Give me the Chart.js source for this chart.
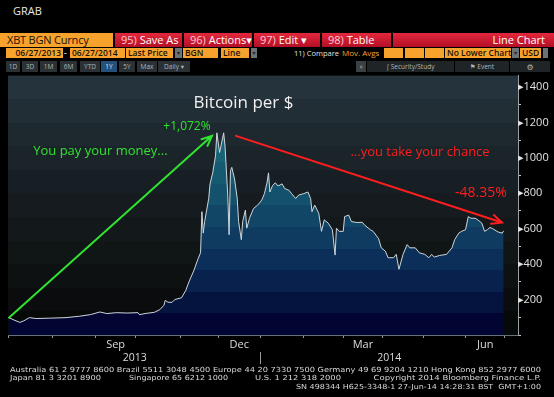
<!DOCTYPE html>
<html>
<head>
<meta charset="utf-8">
<script src="https://cdn.jsdelivr.net/npm/chart.js@4.4.1/dist/chart.umd.min.js"></script>
<style>
  html, body { margin: 0; padding: 0; background: #000; }
  #wrap { position: relative; width: 554px; height: 397px; background: #000; overflow: hidden;
          font-family: 'Open Sans', 'DejaVu Sans', sans-serif; }
  .b { position: absolute; box-sizing: border-box; white-space: nowrap; overflow: hidden; }
  .r1 { top: 33px; height: 14px; font-size: 11px; line-height: 14px; }
  .r2 { top: 48px; height: 10px; font-size: 8.5px; line-height: 10px; font-weight: 600; }
  .r3 { top: 61px; height: 11px; font-size: 6.5px; line-height: 11px; text-align: center;
        color: #aeb6bb; background: #2a3034; }
  .or { background: #f7a22d; color: #1b1206; padding-left: 2px; }
  .rd { background: linear-gradient(#e3283d, #b40f26); color: #fff; padding-left: 6px; }
  .rd i { font-style: normal; color: #ffc9cf; }
  .dd { background: #6c7377; color: #222; font-size: 6px; text-align: center; }
  #chart { position: absolute; left: 0; top: 72px; }
</style>
</head>
<body>
<div id="wrap">
  <div class="b" style="left:13px;top:3px;font-size:11px;line-height:16px;color:#e8e8e8;">GRAB</div>

  <div class="b r1 or" style="left:0;width:113px;padding-left:7px;letter-spacing:-0.2px;">XBT BGN Curncy</div>
  <div class="b r1 rd" style="left:115px;width:67px;"><i>95)</i> Save As</div>
  <div class="b r1 rd" style="left:184px;width:68px;"><i>96)</i> Actions&#9662;</div>
  <div class="b r1 rd" style="left:254px;width:66px;"><i>97)</i> Edit &#9662;</div>
  <div class="b r1 rd" style="left:322px;width:69px;"><i>98)</i> Table</div>
  <div class="b r1 rd" style="left:393px;width:161px;text-align:right;padding-right:9px;">Line Chart</div>

  <div class="b r2 or" style="left:6px;width:57px;text-align:right;padding-right:2px;">06/27/2013</div>
  <div class="b r2" style="left:64px;width:5px;color:#ddd;">-</div>
  <div class="b r2 or" style="left:70px;width:55px;">06/27/2014</div>
  <div class="b r2 or" style="left:126px;width:47px;">Last Price</div>
  <div class="b r2 dd" style="left:175px;width:7px;">&#9662;</div>
  <div class="b r2 or" style="left:183px;width:35px;">BGN</div>
  <div class="b r2 or" style="left:221px;width:28px;">Line</div>
  <div class="b r2 dd" style="left:251px;width:6px;">&#9662;</div>
  <div class="b r2" style="left:294px;color:#e0e0e0;font-weight:400;font-size:7.5px;">11) Compare</div>
  <div class="b r2" style="left:342px;color:#f7a22d;font-weight:400;font-size:8px;">Mov. Avgs</div>
  <div class="b r2 or" style="left:384px;width:19px;"></div>
  <div class="b r2 or" style="left:405px;width:19px;"></div>
  <div class="b r2 or" style="left:425px;width:19px;"></div>
  <div class="b r2 or" style="left:445px;width:66px;">No Lower Chart</div>
  <div class="b r2 dd" style="left:512px;width:7px;">&#9662;</div>
  <div class="b r2 or" style="left:520px;width:21px;">USD</div>
  <div class="b r2 dd" style="left:543px;width:5px;"></div>

  <div class="b r3" style="left:6px;width:14px;">1D</div>
  <div class="b r3" style="left:22px;width:16px;">3D</div>
  <div class="b r3" style="left:40px;width:17px;">1M</div>
  <div class="b r3" style="left:60px;width:17px;">6M</div>
  <div class="b r3" style="left:80px;width:20px;">YTD</div>
  <div class="b r3" style="left:101px;width:16px;background:#24507c;color:#d6e6f5;">1Y</div>
  <div class="b r3" style="left:119px;width:16px;">5Y</div>
  <div class="b r3" style="left:137px;width:20px;">Max</div>
  <div class="b r3" style="left:158px;width:32px;">Daily &#9662;</div>
  <div class="b r3" style="left:356px;width:10px;background:#3a4044;">&#171;</div>
  <div class="b r3" style="left:367px;width:87px;background:#1f2427;">&#8747; Security/Study</div>
  <div class="b r3" style="left:455px;width:54px;background:#1f2427;">&#9873; Event</div>
  <div class="b r3" style="left:510px;width:40px;background:#1f2427;font-size:8px;">&#9881;</div>

  <canvas id="chart" width="554" height="325"></canvas>
</div>

<script>
// XBT BGN, days since 27 Jun 2013, last price in USD
const days = [0, 3, 8, 11, 15, 20, 30, 42, 52, 60, 67, 72, 79, 87, 95, 96, 101, 107, 111, 114,
  115, 117, 120, 122, 127, 130, 133, 136, 139, 141, 142, 143, 144, 147, 148, 150, 152, 153, 155, 158,
  159, 161, 162, 163, 164, 166, 168, 169, 171, 172, 174, 175, 177, 180, 183, 186, 188, 190, 191, 192,
  194, 196, 198, 201, 203, 206, 208, 211, 213, 217, 220, 222, 223, 225, 228, 230, 232, 235, 238, 240,
  241, 243, 246, 247, 250, 252, 256, 260, 262, 266, 268, 272, 274, 277, 279, 283, 285, 287, 290, 293,
  295, 299, 302, 306, 309, 311, 313, 317, 322, 326, 328, 331, 333, 336, 338, 340, 343, 345, 348, 350,
  352, 354, 356, 360, 363, 364];
const prices = [98, 87, 71, 80, 98, 93, 95, 98, 106, 115, 130, 121, 126, 124, 126, 115, 122, 128, 143, 167,
  195, 185, 184, 200, 210, 250, 310, 362, 427, 464, 696, 575, 640, 770, 853, 918, 1011, 1141, 1030, 1141,
  1067, 789, 566, 928, 946, 881, 770, 640, 538, 640, 705, 603, 659, 714, 733, 761, 798, 863, 915, 807,
  844, 859, 841, 853, 826, 817, 798, 770, 789, 798, 807, 770, 696, 733, 686, 585, 650, 631, 594, 451,
  603, 585, 585, 668, 677, 640, 635, 636, 618, 594, 585, 544, 492, 473, 436, 436, 455, 371, 455, 510,
  492, 492, 464, 455, 436, 455, 440, 449, 455, 492, 538, 575, 585, 594, 668, 659, 659, 650, 631, 585,
  594, 607, 600, 581, 575, 588];

const monthEnds = [0, 32, 64, 93, 126, 154, 185, 217, 246, 275, 305, 336, 365];
const monthMid = [78.5, 169.5, 260.5, 350.5];
const monthNames = ['Sep', 'Dec', 'Mar', 'Jun'];
const yearMid = [92.5, 279.8];
const yearNames = ['2013', '2014'];
const yearSplit = 185;
const yTicks = [0, 100, 200, 300, 400, 500, 600, 700, 800, 900, 1000, 1100, 1200, 1300, 1400];

// annotations, placed in data units
const arrows = [
  {from: [0, 98], to: [149.4, 1124], color: '#2fe32f'},
  {from: [167, 1124], to: [362.8, 635], color: '#ff1e1e'}
];
const notes = [
  {text: 'Bitcoin per $', x: 172.6, y: 1280, color: '#f0f0f0', size: 17},
  {text: '+1,072%', x: 131, y: 1155, color: '#2fe32f', size: 12},
  {text: 'You pay your money...', x: 67.3, y: 1015, color: '#2fe32f', size: 13},
  {text: '...you take your chance', x: 302.5, y: 1012, color: '#ff1e1e', size: 13},
  {text: '-48.35%', x: 347.3, y: 778, color: '#ff1e1e', size: 14}
];

const footer = [
  {text: 'Australia 61 2 9777 8600 Brazil 5511 3048 4500 Europe 44 20 7330 7500 Germany 49 69 9204 1210 Hong Kong 852 2977 6000', x: 10, w: 531, y: 300},
  {text: 'Japan 81 3 3201 8900', x: 10, w: 91, y: 308},
  {text: 'Singapore 65 6212 1000', x: 129, w: 99, y: 308},
  {text: 'U.S. 1 212 318 2000', x: 255, w: 86, y: 308},
  {text: 'Copyright 2014 Bloomberg Finance L.P.', x: 373.5, w: 167.5, y: 308},
  {text: 'SN 498344 H625-3348-1 27-Jun-14 14:28:31 BST  GMT+1:00', x: 296, w: 245, y: 316.5}
];

function hexToRgb(h) {
  return [parseInt(h.substr(1, 2), 16), parseInt(h.substr(3, 2), 16), parseInt(h.substr(5, 2), 16)];
}

function colorAt(colors, t) {
  var seg = t * (colors.length - 1);
  var i = Math.min(Math.floor(seg), colors.length - 2);
  var f = seg - i;
  var a = hexToRgb(colors[i]), b = hexToRgb(colors[i + 1]);
  return 'rgb(' + a.map(function (v, k) { return Math.round(v + (b[k] - v) * f); }).join(',') + ')';
}

// stepped gradient, like the Bloomberg bands
function banded(ctx, area, colors, n) {
  var g = ctx.createLinearGradient(0, area.top, 0, area.bottom);
  for (var i = 0; i < n; i++) {
    var c = colorAt(colors, i / (n - 1));
    g.addColorStop(i / n, c);
    g.addColorStop((i + 1) / n - 0.0001, c);
  }
  return g;
}

function drawArrow(ctx, x1, y1, x2, y2, color) {
  var ang = Math.atan2(y2 - y1, x2 - x1), h = 11;
  ctx.strokeStyle = color;
  ctx.lineWidth = 2;
  ctx.lineCap = 'round';
  ctx.beginPath();
  ctx.moveTo(x1, y1);
  ctx.lineTo(x2, y2);
  ctx.moveTo(x2 - h * Math.cos(ang - 0.42), y2 - h * Math.sin(ang - 0.42));
  ctx.lineTo(x2, y2);
  ctx.lineTo(x2 - h * Math.cos(ang + 0.42), y2 - h * Math.sin(ang + 0.42));
  ctx.stroke();
}

const bgPlugin = {
  id: 'bg',
  beforeDraw(chart) {
    const ctx = chart.ctx, a = chart.chartArea;
    ctx.save();
    ctx.fillStyle = '#000';
    ctx.fillRect(0, 0, chart.width, chart.height);
    ctx.fillStyle = banded(ctx, a, ['#25333c', '#1c262c', '#151b1e', '#0f1314', '#070808'], 11);
    ctx.fillRect(a.left, a.top, a.right - a.left, a.bottom - a.top);
    ctx.restore();
  }
};

const notesPlugin = {
  id: 'notes',
  afterDatasetsDraw(chart) {
    const ctx = chart.ctx, xs = chart.scales.x, ys = chart.scales.y;
    ctx.save();
    arrows.forEach(function (ar) {
      drawArrow(ctx, xs.getPixelForValue(ar.from[0]), ys.getPixelForValue(ar.from[1]),
        xs.getPixelForValue(ar.to[0]), ys.getPixelForValue(ar.to[1]), ar.color);
    });
    ctx.textAlign = 'center';
    ctx.textBaseline = 'alphabetic';
    notes.forEach(function (n) {
      ctx.font = n.size + "px 'Open Sans', 'DejaVu Sans', sans-serif";
      ctx.fillStyle = n.color;
      ctx.fillText(n.text, xs.getPixelForValue(n.x), ys.getPixelForValue(n.y));
    });
    ctx.restore();
  },
  afterDraw(chart) {
    const ctx = chart.ctx, xs = chart.scales.x;
    ctx.save();
    ctx.fillStyle = '#dcdcdc';
    ctx.textAlign = 'center';
    ctx.font = "10.5px 'Open Sans', 'DejaVu Sans', sans-serif";
    yearNames.forEach(function (y, i) {
      ctx.fillText(y, xs.getPixelForValue(yearMid[i]), 289);
    });
    var sx = Math.round(xs.getPixelForValue(yearSplit)) + 0.5;
    ctx.strokeStyle = '#9a9a9a';
    ctx.lineWidth = 1;
    ctx.beginPath();
    ctx.moveTo(sx, 280);
    ctx.lineTo(sx, 292);
    ctx.stroke();

    ctx.textAlign = 'left';
    ctx.font = "7px 'DejaVu Sans', sans-serif";
    ctx.fillStyle = '#d8d8d8';
    footer.forEach(function (f) {
      var w = ctx.measureText(f.text).width;
      ctx.save();
      ctx.translate(f.x, f.y);
      ctx.scale(f.w / w, 1);
      ctx.fillText(f.text, 0, 0);
      ctx.restore();
    });
    ctx.restore();
  }
};

function BuildChart() {
  var ctx = document.getElementById('chart').getContext('2d');
  var points = days.map(function (d, i) { return {x: d, y: prices[i]}; });
  var axisFont = {family: "'Open Sans', 'DejaVu Sans', sans-serif", size: 11};

  return new Chart(ctx, {
    type: 'line',
    data: {
      datasets: [{
        label: 'XBT BGN Curncy',
        data: points,
        borderColor: '#cdd6dc',
        borderWidth: 1,
        pointRadius: 0,
        tension: 0,
        fill: 'origin',
        backgroundColor: function (c) {
          var a = c.chart.chartArea;
          if (!a) return null;
          return banded(c.chart.ctx, a, ['#207a8d', '#1a6577', '#124c69', '#0b2c57', '#020431'], 12);
        }
      }]
    },
    options: {
      responsive: false,
      animation: false,
      devicePixelRatio: 1,
      layout: {padding: {left: 8, right: 0, top: 0, bottom: 0}},
      plugins: {legend: {display: false}, tooltip: {enabled: false}},
      scales: {
        x: {
          type: 'linear', position: 'bottom', min: -0.7, max: 374.6,
          afterBuildTicks: function (s) { s.ticks = monthEnds.map(function (v) { return {value: v}; }); },
          afterFit: function (s) { s.height = 3; },
          ticks: {display: false},
          grid: {drawOnChartArea: false, drawTicks: true, tickLength: 3, color: '#8c969b'},
          border: {display: true, color: '#66727a'}
        },
        x2: {
          type: 'linear', position: 'bottom', min: -0.7, max: 374.6,
          afterBuildTicks: function (s) { s.ticks = monthMid.map(function (v) { return {value: v}; }); },
          afterFit: function (s) { s.height = 59; },
          ticks: {
            autoSkip: false, maxRotation: 0, padding: 0, color: '#dcdcdc', font: axisFont,
            callback: function (v) { return monthNames[monthMid.indexOf(v)] || ''; }
          },
          grid: {display: false, drawTicks: false},
          border: {display: false}
        },
        y: {
          position: 'right', min: 0, max: 1464,
          afterBuildTicks: function (s) { s.ticks = yTicks.map(function (v) { return {value: v}; }); },
          afterFit: function (s) { s.width = 36; },
          ticks: {
            padding: -3, color: '#e2e2e2', font: axisFont,
            callback: function (v) { return (v % 200 === 0 && v > 0) ? '\u25B8' + v : ''; }
          },
          grid: {
            drawOnChartArea: false, drawTicks: true, tickLength: 3,
            color: function (c) { return (c.tick && c.tick.value % 200 === 0 && c.tick.value > 0) ? 'rgba(0,0,0,0)' : '#c8c8c8'; }
          },
          border: {display: true, color: '#9aa2a6'}
        }
      }
    },
    plugins: [bgPlugin, notesPlugin]
  });
}

BuildChart();
</script>
</body>
</html>
